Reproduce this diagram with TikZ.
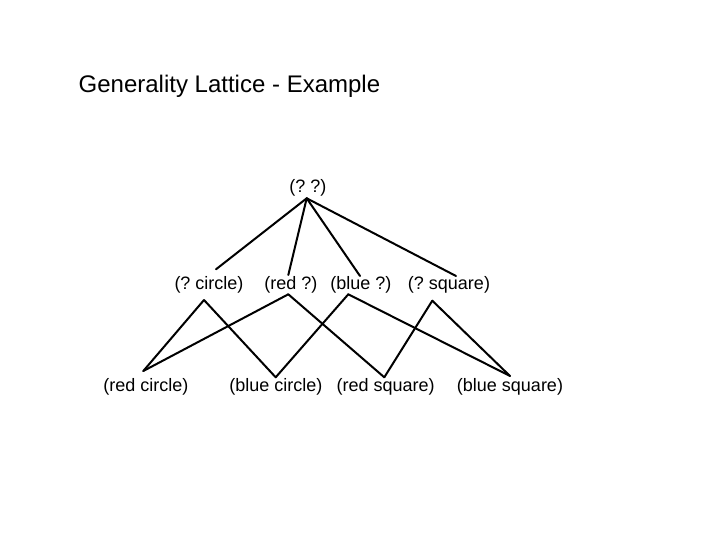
\documentclass[tikz,border=0pt]{standalone}
\usepackage{fontspec}
\setmainfont{Liberation Sans}
\frenchspacing
\begin{document}
\begin{tikzpicture}[x=1pt,y=-1pt,
  lbl/.style={anchor=base,inner sep=0pt,font=\fontsize{18}{20}\selectfont},
  ttl/.style={anchor=base west,inner sep=0pt,font=\fontsize{24}{28}\selectfont},
  edge/.style={line width=2pt,line cap=round}]
\useasboundingbox (0,0) rectangle (720,540);
\fill[white] (0,0) rectangle (720,540);
\node[ttl] (title) at (78.5,93) {Generality Lattice - Example};
% nodes
\node[lbl] (top) at (308,193) {(? ?)};
\node[lbl] (qc) at (209,289.5) {(? circle)};
\node[lbl] (rq) at (291,289.5) {(red ?)};
\node[lbl] (bq) at (361,289.5) {(blue ?)};
\node[lbl] (qs) at (449,289.5) {(? square)};
\node[lbl] (rc) at (146,391.5) {(red circle)};
\node[lbl] (bc) at (276,391.5) {(blue circle)};
\node[lbl] (rs) at (385.7,391.5) {(red square)};
\node[lbl] (bs) at (510,391.5) {(blue square)};
% connector end points
\coordinate (top-b) at (306.7,198.3);
\coordinate (qc-t) at (216,269.3);
\coordinate (rq-t) at (288.3,275);
\coordinate (bq-t) at (360,276);
\coordinate (qs-t) at (456,276);
\coordinate (qc-b) at (204,300);
\coordinate (rq-b) at (288.3,294.3);
\coordinate (bq-b) at (348.3,294.3);
\coordinate (qs-b) at (432.3,300.7);
\coordinate (rc-t) at (143.3,371);
\coordinate (bc-t) at (275.7,377.3);
\coordinate (rs-t) at (384.3,377.3);
\coordinate (bs-t) at (510,376);
% edges
\draw[edge] (top-b) -- (qc-t);
\draw[edge] (top-b) -- (rq-t);
\draw[edge] (top-b) -- (bq-t);
\draw[edge] (top-b) -- (qs-t);
\draw[edge] (qc-b) -- (rc-t);
\draw[edge] (qc-b) -- (bc-t);
\draw[edge] (rq-b) -- (rc-t);
\draw[edge] (rq-b) -- (rs-t);
\draw[edge] (bq-b) -- (bc-t);
\draw[edge] (bq-b) -- (bs-t);
\draw[edge] (qs-b) -- (rs-t);
\draw[edge] (qs-b) -- (bs-t);
\end{tikzpicture}
\end{document}
